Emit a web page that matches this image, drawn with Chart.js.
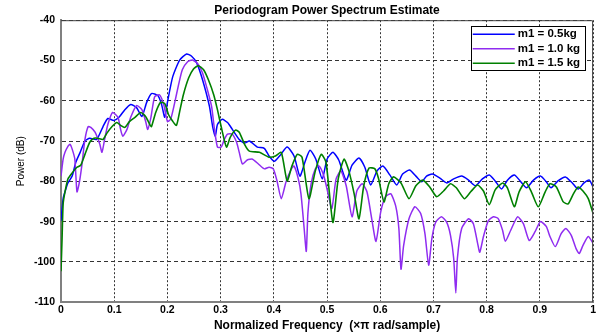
<!DOCTYPE html>
<html>
<head>
<meta charset="utf-8">
<script src="https://cdn.jsdelivr.net/npm/chart.js@4.4.1/dist/chart.umd.min.js"></script>
<style>
  html, body { margin: 0; padding: 0; background: #fff; }
  canvas { display: block; }
</style>
</head>
<body>
<canvas id="psd" width="598" height="336"></canvas>
<script>
// series labels
var seriesNames = ["m1 = 0.5kg", "m1 = 1.0 kg", "m1 = 1.5 kg"];

// m1 = 0.5kg
var freqBlue = [0, 0.002, 0.004, 0.0075, 0.013, 0.021, 0.028, 0.036, 0.045, 0.054, 0.067, 0.079, 0.088, 0.099, 0.109,
  0.120, 0.131, 0.142, 0.152, 0.161, 0.170, 0.182, 0.189, 0.195, 0.200, 0.210, 0.223, 0.236, 0.245, 0.255,
  0.266, 0.279, 0.285, 0.290, 0.294, 0.303, 0.313, 0.322, 0.335, 0.345, 0.354, 0.369, 0.382, 0.391, 0.401,
  0.412, 0.425, 0.438, 0.449, 0.459, 0.468, 0.479, 0.491, 0.500, 0.511, 0.522, 0.536, 0.547, 0.560, 0.571,
  0.582, 0.594, 0.605, 0.618, 0.631, 0.642, 0.655, 0.667, 0.678, 0.687, 0.698, 0.712, 0.725, 0.738, 0.753,
  0.766, 0.779, 0.792, 0.805, 0.816, 0.828, 0.839, 0.852, 0.863, 0.875, 0.888, 0.901, 0.912, 0.921, 0.934,
  0.948, 0.961, 0.972, 0.983, 0.993, 1.0];
var powerBlue = [-89.8, -86.8, -84.3, -82.6, -80.4, -78.7, -75.2, -72.8, -70.0, -69.3, -69.6, -66.4, -64.4, -64.9, -64.1,
  -62.2, -60.9, -61.7, -63.9, -60.4, -58.2, -58.7, -60.9, -64.1, -60.4, -54.0, -49.9, -48.4, -48.9, -50.6,
  -54.8, -61.4, -66.4, -68.8, -65.9, -64.6, -65.4, -67.1, -69.6, -70.5, -70.0, -71.5, -71.8, -73.7, -75.0,
  -73.5, -71.5, -73.7, -78.7, -75.0, -72.3, -74.5, -79.4, -74.5, -72.8, -74.7, -79.7, -76.0, -74.2, -76.5,
  -80.9, -77.4, -76.2, -78.4, -80.9, -78.2, -77.2, -78.7, -80.1, -78.7, -78.2, -79.2, -80.4, -79.4, -78.7,
  -79.7, -81.1, -79.4, -78.4, -79.9, -81.9, -79.7, -78.4, -79.9, -81.6, -79.7, -78.7, -80.1, -81.6, -79.9,
  -78.9, -80.4, -81.9, -80.4, -79.7, -81.4];

// m1 = 1.0 kg
var freqPurple = [0, 0.004, 0.0075, 0.013, 0.017, 0.021, 0.026, 0.030, 0.034, 0.039, 0.045, 0.051, 0.056, 0.064, 0.073,
  0.077, 0.082, 0.088, 0.097, 0.107, 0.112, 0.116, 0.124, 0.131, 0.142, 0.152, 0.159, 0.163, 0.169, 0.176,
  0.185, 0.193, 0.200, 0.206, 0.213, 0.221, 0.228, 0.238, 0.247, 0.257, 0.266, 0.275, 0.283, 0.288, 0.294,
  0.301, 0.307, 0.313, 0.322, 0.330, 0.335, 0.341, 0.350, 0.360, 0.371, 0.382, 0.391, 0.399, 0.406, 0.414,
  0.423, 0.433, 0.438, 0.446, 0.451, 0.457, 0.461, 0.464, 0.470, 0.478, 0.485, 0.494, 0.502, 0.509, 0.517,
  0.526, 0.536, 0.547, 0.556, 0.566, 0.575, 0.584, 0.592, 0.601, 0.610, 0.620, 0.629, 0.635, 0.639, 0.644,
  0.654, 0.665, 0.676, 0.684, 0.691, 0.697, 0.704, 0.715, 0.725, 0.732, 0.738, 0.742, 0.745, 0.753, 0.766,
  0.775, 0.783, 0.787, 0.794, 0.803, 0.813, 0.822, 0.830, 0.835, 0.845, 0.858, 0.869, 0.880, 0.891, 0.901,
  0.912, 0.919, 0.929, 0.940, 0.949, 0.959, 0.968, 0.974, 0.981, 0.991, 1.0];
var powerPurple = [-78.7, -74.5, -72.8, -71.3, -70.8, -72.0, -74.5, -82.6, -80.6, -76.2, -69.6, -66.4, -66.6, -67.8, -70.8,
  -72.8, -69.6, -65.9, -62.9, -64.1, -67.1, -68.8, -67.1, -64.1, -61.2, -62.2, -65.1, -67.1, -64.1, -59.0,
  -58.5, -60.9, -65.1, -64.6, -60.9, -56.0, -52.3, -50.3, -49.9, -50.8, -53.1, -57.2, -61.4, -66.6, -71.5,
  -71.5, -69.6, -68.3, -68.3, -70.3, -72.8, -75.7, -74.7, -74.5, -75.7, -76.9, -76.5, -76.9, -79.9, -84.3,
  -80.1, -76.9, -76.2, -79.4, -83.1, -91.7, -97.4, -88.0, -80.6, -76.9, -76.2, -78.7, -83.1, -86.8, -79.4,
  -77.4, -81.1, -88.8, -82.4, -80.6, -82.6, -89.3, -94.9, -87.5, -83.8, -83.1, -86.1, -91.7, -101.8, -95.9,
  -89.3, -86.3, -88.0, -93.0, -100.8, -94.2, -90.2, -88.8, -90.2, -93.4, -99.1, -107.7, -99.1, -91.7, -89.3,
  -90.5, -95.4, -97.6, -93.7, -89.8, -88.8, -89.3, -92.2, -94.9, -92.2, -88.8, -90.5, -94.7, -92.5, -90.0,
  -91.2, -93.7, -96.2, -93.0, -91.7, -93.4, -96.7, -97.9, -95.9, -93.7, -95.4];

// m1 = 1.5 kg
var freqGreen = [0, 0.002, 0.004, 0.0075, 0.013, 0.021, 0.030, 0.037, 0.045, 0.054, 0.062, 0.069, 0.079, 0.086, 0.096,
  0.105, 0.112, 0.120, 0.129, 0.139, 0.150, 0.159, 0.167, 0.170, 0.178, 0.187, 0.195, 0.202, 0.210, 0.217,
  0.223, 0.230, 0.240, 0.249, 0.258, 0.268, 0.277, 0.287, 0.294, 0.301, 0.311, 0.318, 0.328, 0.335, 0.345,
  0.354, 0.373, 0.391, 0.403, 0.414, 0.425, 0.434, 0.444, 0.453, 0.466, 0.478, 0.489, 0.498, 0.511, 0.521,
  0.532, 0.541, 0.551, 0.560, 0.569, 0.579, 0.590, 0.597, 0.607, 0.616, 0.625, 0.639, 0.654, 0.667, 0.680,
  0.693, 0.706, 0.719, 0.732, 0.743, 0.758, 0.770, 0.783, 0.794, 0.805, 0.816, 0.830, 0.839, 0.852, 0.861,
  0.873, 0.884, 0.897, 0.910, 0.919, 0.931, 0.944, 0.953, 0.963, 0.972, 0.981, 0.991, 1.0];
var powerGreen = [-102.3, -94.2, -85.6, -82.6, -79.4, -77.9, -76.5, -76.0, -73.3, -70.3, -69.3, -69.3, -69.6, -68.1, -66.4,
  -65.4, -66.1, -66.6, -65.1, -64.1, -62.9, -63.9, -65.9, -66.4, -62.9, -60.4, -60.7, -63.4, -65.1, -66.1,
  -62.7, -58.5, -54.3, -52.1, -51.3, -52.3, -54.8, -58.5, -62.2, -66.4, -71.5, -69.1, -67.3, -67.8, -70.8,
  -72.5, -72.8, -74.0, -73.7, -72.8, -79.9, -76.2, -73.3, -74.0, -84.3, -77.4, -73.3, -75.2, -90.2, -79.4,
  -74.5, -77.4, -83.1, -89.3, -81.1, -76.7, -76.9, -79.4, -85.1, -80.6, -78.9, -80.4, -84.3, -81.1, -79.7,
  -81.4, -83.8, -82.4, -80.6, -81.6, -84.3, -82.6, -80.9, -82.4, -85.8, -82.1, -80.4, -81.6, -86.3, -82.6,
  -80.1, -82.6, -86.3, -82.6, -80.6, -81.4, -85.1, -85.6, -83.1, -81.4, -82.4, -84.3, -88.0];

// tick labels
var xTickLabels = ["0", "0.1", "0.2", "0.3", "0.4", "0.5", "0.6", "0.7", "0.8", "0.9", "1"];
var yTickLabels = ["-110", "-100", "-90", "-80", "-70", "-60", "-50", "-40"];

function toPoints(fx, py){
    var pts = [];
    for (var i = 0; i < fx.length; i++) pts.push({x: fx[i], y: py[i]});
    return pts;
}

var FONT = "'Liberation Sans', Arial, sans-serif";

// box round the axes + legend in the top right corner
var boxAndLegend = {
    id: "boxAndLegend",
    afterDatasetsDraw: function(chart){
        var ctx = chart.ctx, a = chart.chartArea;
        ctx.save();
        ctx.strokeStyle = "#404040";
        ctx.lineWidth = 1;
        ctx.beginPath();
        ctx.moveTo(a.left, a.top + 0.5);
        ctx.lineTo(a.right - 0.5, a.top + 0.5);
        ctx.lineTo(a.right - 0.5, a.bottom);
        ctx.stroke();

        var ds = chart.data.datasets;
        ctx.font = "bold 11.5px " + FONT;
        var tw = 0;
        ds.forEach(function(d){ tw = Math.max(tw, ctx.measureText(d.label).width); });
        var lineLen = 42, bw = 2 + lineLen + 3 + tw + 5, bh = 44;
        var bx = a.right - 8 - bw, by = a.top + 6;
        ctx.fillStyle = "#fff";
        ctx.fillRect(bx, by, bw, bh);
        ctx.strokeStyle = "#000";
        ctx.strokeRect(Math.round(bx) + 0.5, Math.round(by) + 0.5, Math.round(bw), bh);
        ctx.textBaseline = "middle";
        ctx.textAlign = "left";
        ds.forEach(function(d, i){
            var y = by + 8 + i * 14.5;
            ctx.strokeStyle = d.borderColor;
            ctx.lineWidth = 1.5;
            ctx.beginPath();
            ctx.moveTo(bx + 2, y);
            ctx.lineTo(bx + 2 + lineLen, y);
            ctx.stroke();
            ctx.fillStyle = "#000";
            ctx.fillText(d.label, bx + 2 + lineLen + 3, y);
        });
        ctx.restore();
    }
};

var psd = new Chart(document.getElementById("psd").getContext("2d"), {
    type: "line",
    data: {
        datasets: [
            {
                label: seriesNames[0],
                data: toPoints(freqBlue, powerBlue),
                borderColor: "#0000ff",
                borderWidth: 1.5,
                order: 2
            },
            {
                label: seriesNames[1],
                data: toPoints(freqPurple, powerPurple),
                borderColor: "#8f2cf0",
                borderWidth: 1.5,
                order: 1
            },
            {
                label: seriesNames[2],
                data: toPoints(freqGreen, powerGreen),
                borderColor: "#008000",
                borderWidth: 1.6,
                order: 0
            }
        ]
    },
    options: {
        responsive: false,
        animation: false,
        devicePixelRatio: 1,
        layout: { padding: { left: 0, right: 3, top: 0, bottom: 0 } },
        elements: {
            point: { radius: 0 },
            line: { tension: 0.2, fill: false }
        },
        plugins: {
            legend: { display: false },
            tooltip: { enabled: false },
            title: {
                display: true,
                fullSize: false,
                text: "Periodogram Power Spectrum Estimate",
                color: "#000",
                font: { family: FONT, size: 12, weight: "bold", lineHeight: 1.1 },
                padding: { top: 4, bottom: 3 }
            }
        },
        scales: {
            x: {
                type: "linear",
                min: 0,
                max: 1,
                ticks: {
                    stepSize: 0.1,
                    padding: 2,
                    color: "#000",
                    font: { family: FONT, size: 10.5, weight: "bold", lineHeight: 1.2 },
                    callback: function(v, i){ return xTickLabels[i]; }
                },
                grid: { color: "#333", drawTicks: false, lineWidth: 1 },
                border: { display: true, color: "#808080", width: 2, dash: [2, 2] },
                title: {
                    display: true,
                    text: "Normalized Frequency  (\u00d7\u03c0 rad/sample)",
                    color: "#000",
                    font: { family: FONT, size: 12, weight: "bold", lineHeight: 1.1 },
                    padding: { top: 0, bottom: 4 }
                }
            },
            y: {
                min: -110,
                max: -40,
                ticks: {
                    stepSize: 10,
                    padding: 6,
                    color: "#000",
                    font: { family: FONT, size: 10.5, weight: "bold" },
                    callback: function(v, i){ return yTickLabels[i]; }
                },
                grid: { color: "#333", drawTicks: false, lineWidth: 1 },
                border: { display: true, color: "#808080", width: 2, dash: [4, 3] },
                title: {
                    display: true,
                    text: "Power (dB)",
                    color: "#000",
                    font: { family: FONT, size: 10, lineHeight: 1.2 },
                    padding: { top: 15, bottom: 0 }
                },
                afterFit: function(scale){ scale.width = 61; }
            }
        }
    },
    plugins: [boxAndLegend]
});
</script>
</body>
</html>
